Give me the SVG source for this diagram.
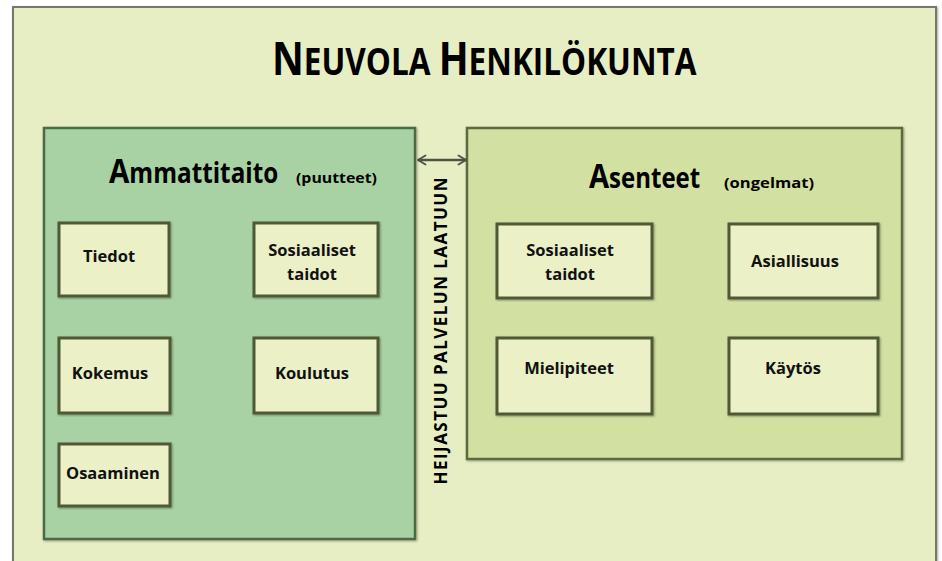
<svg xmlns="http://www.w3.org/2000/svg" width="942" height="561" viewBox="0 0 942 561">
<style>
  .lbl { font-family: "Open Sans", "DejaVu Sans", sans-serif; font-weight: 700; font-size: 16.5px; fill: #111; text-anchor: middle; }
  .head { font-family: "Open Sans", "DejaVu Sans", sans-serif; font-weight: 700; fill: #000; }
  .node rect { fill: #ebf0c7; stroke: #4f5a36; stroke-width: 3; }
  .conn { stroke: #4e5443; stroke-width: 2.4; fill: none; }
</style>
<defs>
  <filter id="sh" x="-5%" y="-5%" width="110%" height="110%">
    <feDropShadow dx="1" dy="1" stdDeviation="1.2" flood-color="#000" flood-opacity="0.35"/>
  </filter>
  <marker id="ah" viewBox="0 0 12 14" refX="11" refY="7" markerWidth="10" markerHeight="12" orient="auto-start-reverse" markerUnits="userSpaceOnUse">
    <path d="M2,1.5 L11,7 L2,12.5" fill="none" stroke="#4e5443" stroke-width="2.2" stroke-linecap="round"/>
  </marker>
</defs>
<rect width="942" height="561" fill="#ffffff"/>
<g id="outer">
  <rect x="13" y="7" width="923" height="580" fill="#e7eec3" stroke="#75786a" stroke-width="2" filter="url(#sh)"/>
  <text class="head" transform="translate(272,75) scale(0.844,1)" x="0" y="0" textLength="503" lengthAdjust="spacingAndGlyphs"><tspan font-size="46">N</tspan><tspan font-size="37">EUVOLA </tspan><tspan font-size="46">H</tspan><tspan font-size="37">ENKILÖKUNTA</tspan></text>
</g>
<g id="ammattitaito">
  <rect x="44" y="128" width="371" height="411" fill="#a8d2a4" stroke="#4e6a47" stroke-width="2.5" filter="url(#sh)"/>
  <text class="head" transform="translate(109,183) scale(0.868,1)" x="0" y="0" textLength="195" lengthAdjust="spacingAndGlyphs"><tspan font-size="34">A</tspan><tspan font-size="28">mmattitaito</tspan></text>
  <text class="head" x="296" y="183" font-size="15" textLength="81" lengthAdjust="spacingAndGlyphs">(puutteet)</text>
</g>
<g id="asenteet">
  <rect x="467" y="128" width="435" height="331" fill="#d2e0a2" stroke="#5b6a3d" stroke-width="2.5" filter="url(#sh)"/>
  <text class="head" transform="translate(589,188) scale(0.849,1)" x="0" y="0" textLength="131" lengthAdjust="spacingAndGlyphs"><tspan font-size="34">A</tspan><tspan font-size="28">senteet</tspan></text>
  <text class="head" x="724" y="188" font-size="15" textLength="90" lengthAdjust="spacingAndGlyphs">(ongelmat)</text>
</g>
<g id="n-tiedot" class="node">
  <rect x="59" y="223" width="110" height="73" filter="url(#sh)"/>
  <text class="lbl" x="109" y="262">Tiedot</text>
</g>
<g id="n-sosiaaliset1" class="node">
  <rect x="254" y="223" width="124" height="73" filter="url(#sh)"/>
  <text class="lbl" x="312" y="256">Sosiaaliset</text>
  <text class="lbl" x="312" y="280">taidot</text>
</g>
<g id="n-kokemus" class="node">
  <rect x="59" y="338" width="111" height="75" filter="url(#sh)"/>
  <text class="lbl" x="110" y="379">Kokemus</text>
</g>
<g id="n-koulutus" class="node">
  <rect x="254" y="338" width="124" height="75" filter="url(#sh)"/>
  <text class="lbl" x="312" y="379">Koulutus</text>
</g>
<g id="n-osaaminen" class="node">
  <rect x="59" y="444" width="111" height="62" filter="url(#sh)"/>
  <text class="lbl" x="113" y="479">Osaaminen</text>
</g>
<g id="n-sosiaaliset2" class="node">
  <rect x="497" y="224" width="155" height="74" filter="url(#sh)"/>
  <text class="lbl" x="570" y="256">Sosiaaliset</text>
  <text class="lbl" x="570" y="280">taidot</text>
</g>
<g id="n-asiallisuus" class="node">
  <rect x="729" y="224" width="149" height="74" filter="url(#sh)"/>
  <text class="lbl" x="795" y="267">Asiallisuus</text>
</g>
<g id="n-mielipiteet" class="node">
  <rect x="497" y="338" width="155" height="76" filter="url(#sh)"/>
  <text class="lbl" x="569" y="374">Mielipiteet</text>
</g>
<g id="n-kaytos" class="node">
  <rect x="729" y="338" width="149" height="76" filter="url(#sh)"/>
  <text class="lbl" x="793" y="374">Käytös</text>
</g>
<g id="connectors">
  <line class="conn" x1="418" y1="160" x2="466" y2="160" marker-start="url(#ah)" marker-end="url(#ah)"/>
  <text class="head" font-size="17" text-anchor="middle" transform="translate(447,331) rotate(-90)" textLength="307">HEIJASTUU PALVELUN LAATUUN</text>
</g>
</svg>
